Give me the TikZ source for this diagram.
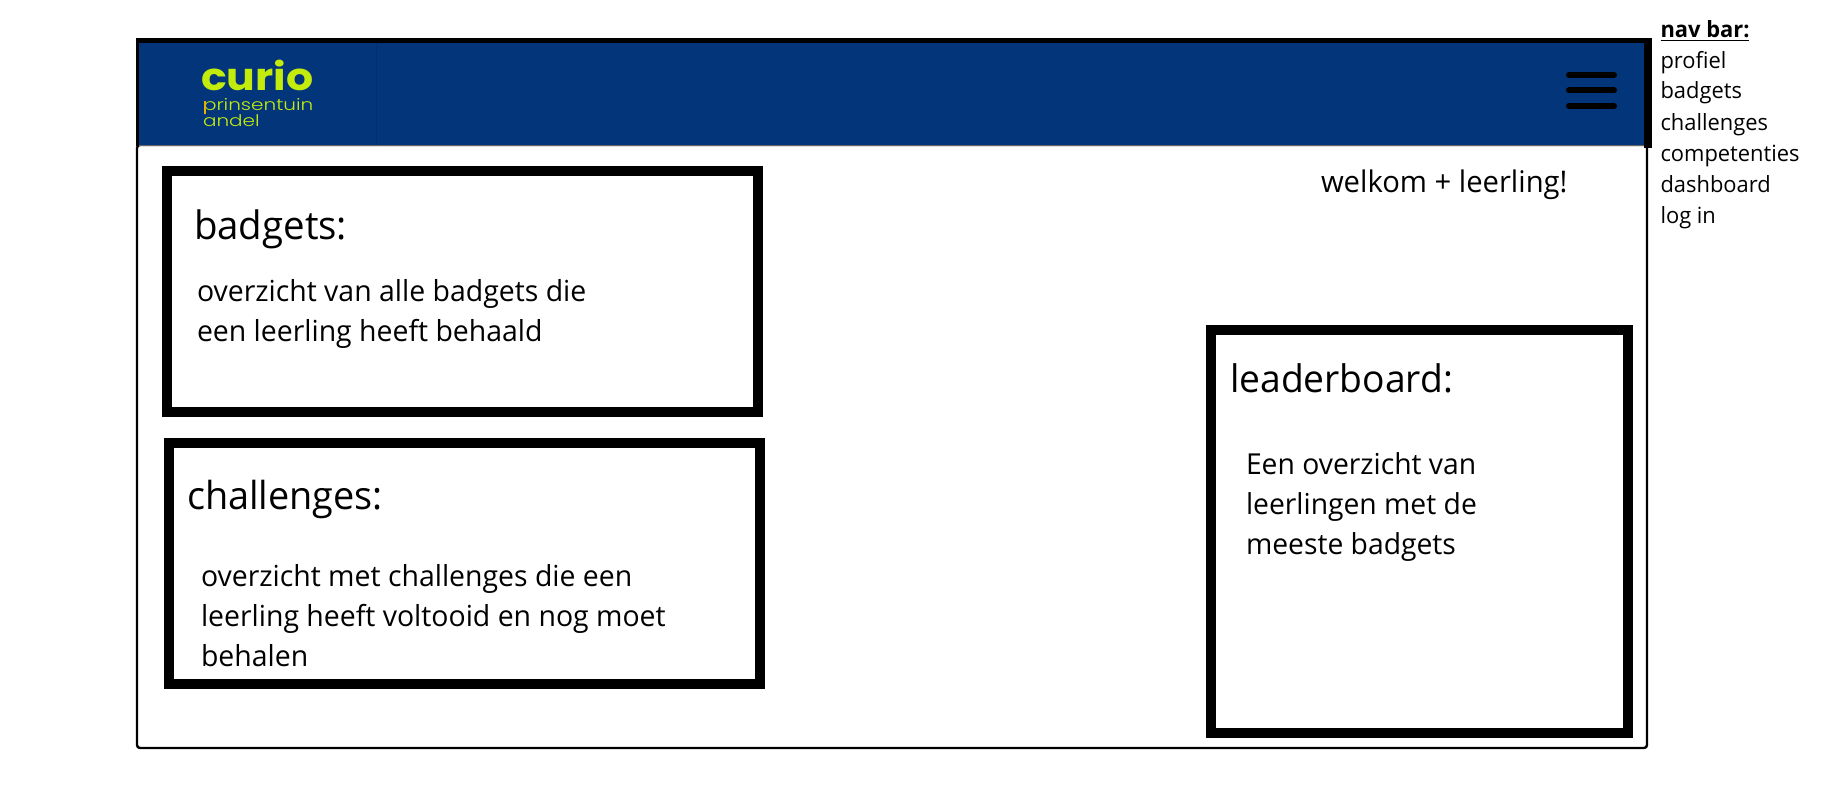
\documentclass[tikz,border=0pt]{standalone}
\usepackage{fontspec}
\setmainfont{Open Sans}[FakeStretch=0.98]
\newfontfamily\logofont{Poppins}
\newfontfamily\logolight{Poppins Light}
\definecolor{navblue}{HTML}{03357A}
\definecolor{navedge}{HTML}{02306F}
\definecolor{lime}{HTML}{C3EC0C}
\definecolor{amber}{HTML}{E8B000}
\begin{document}
\begin{tikzpicture}[x=0.5pt,y=-0.5pt,
  plain/.style={anchor=base west,inner sep=0pt,outer sep=0pt,text=black},
  title/.style={plain,font=\fontsize{19.2}{23}\selectfont},
  body/.style={plain,font=\fontsize{14.5}{17}\selectfont},
  nav/.style={plain,font=\fontsize{11.17}{14}\selectfont},
  panel/.style={draw=black,fill=white,line width=5pt,miter limit=10},
  burger/.style={draw=black,line width=3pt,line cap=round}]
\useasboundingbox (0,0) rectangle (1836,795);
\fill[white] (0,0) rectangle (1836,795);
% page frame
\draw[black,fill=white,line width=1.2pt,rounded corners=1.5pt] (137,145) rectangle (1647,748);
% header bar
\fill[black] (136,38) rectangle (1652,43);
\fill[black] (136,38) rectangle (139,146);
\fill[black] (1644,38) rectangle (1652,148);
\fill[navblue] (139,43) rectangle (1644,145.5);
\draw[black!60,line width=0.5pt] (139,146) -- (1644,146);
\draw[navedge,line width=0.5pt] (376,43) -- (376,145);
% logo
\node[plain,text=lime] (logo) at (201,91) {\logofont\bfseries\fontsize{19}{19}\selectfont\scalebox{1.12}[1]{curio}};
\node[plain,text=lime] (logoa) at (203,111) {\logolight\fontsize{8}{8}\selectfont\scalebox{1.25}[1]{prinsentuin}};
\node[plain,text=lime] (logob) at (203,127) {\logolight\fontsize{8}{8}\selectfont\scalebox{1.25}[1]{andel}};
\fill[amber] (203.5,101) rectangle (206,114.5);
% menu
\draw[burger] (1569,75) -- (1614,75);
\draw[burger] (1569,90.5) -- (1614,90.5);
\draw[burger] (1569,106) -- (1614,106);
% panels
\draw[panel] (167,171) rectangle (758,412);
\draw[panel] (169,443) rectangle (760,684);
\draw[panel] (1211,330) rectangle (1628,733);
% text
\node[title,font=\fontsize{19.6}{23}\selectfont] (t1) at (194,240) {badgets:};
\node[body] (b1a) at (197,301.5) {overzicht van alle badgets die};
\node[body] (b1b) at (197,341.5) {een leerling heeft behaald};
\node[title,font=\fontsize{19.3}{23}\selectfont] (t2) at (187,510) {challenges:};
\node[body] (b2a) at (201,586.5) {overzicht met challenges die een};
\node[body] (b2b) at (201,626.5) {leerling heeft voltooid en nog moet};
\node[body] (b2c) at (201,666.5) {behalen};
\node[title,font=\fontsize{19}{23}\selectfont] (t3) at (1230,393) {leaderboard:};
\node[body,font=\fontsize{14.43}{17}\selectfont] (b3a) at (1246,475) {Een overzicht van};
\node[body,font=\fontsize{14.43}{17}\selectfont] (b3b) at (1246,515) {leerlingen met de};
\node[body,font=\fontsize{14.43}{17}\selectfont] (b3c) at (1246,555) {meeste badgets};
\node[body,font=\fontsize{14.9}{17}\selectfont] (w) at (1321,193) {welkom + leerling!};
\node[nav] (n0) at (1660.5,38) {\textbf{nav bar:}};
\draw[black,line width=0.6pt] (1660.5,40.5) -- (1749,40.5);
\node[nav] (n1) at (1660.5,69) {profiel};
\node[nav] (n2) at (1660.5,99) {badgets};
\node[nav] (n3) at (1660.5,130.5) {challenges};
\node[nav] (n4) at (1660.5,161.5) {competenties};
\node[nav] (n5) at (1660.5,192.5) {dashboard};
\node[nav] (n6) at (1660.5,224) {log in};
\end{tikzpicture}
\end{document}
